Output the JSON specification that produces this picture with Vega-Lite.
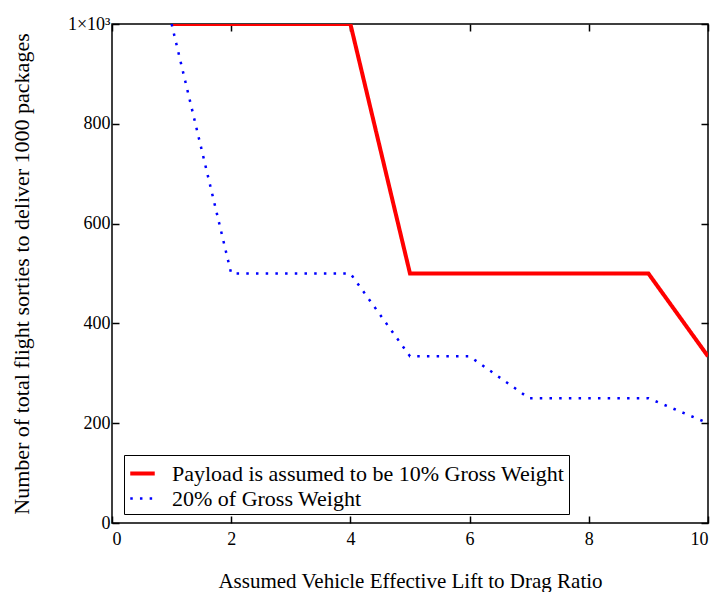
{
  "$schema": "https://vega.github.io/schema/vega-lite/v6.json",
  "autosize": {"type": "none"},
  "padding": {"left": 112, "top": 24, "right": 12, "bottom": 69},
  "width": 596,
  "height": 499,
  "background": "white",
  "config": {
    "font": "Liberation Serif",
    "view": {"stroke": "black", "strokeWidth": 1.5},
    "axis": {
      "domain": false,
      "grid": false,
      "tickColor": "black",
      "tickWidth": 1.5,
      "tickSize": -7,
      "labelColor": "black",
      "labelFont": "Liberation Serif",
      "labelFontSize": 18,
      "titleColor": "black",
      "titleFont": "Liberation Serif",
      "titleFontWeight": "normal"
    }
  },
  "data": {
    "values": [
      {"ld": 1, "sorties": 1000, "series": "Payload is assumed to be 10% Gross Weight"},
      {"ld": 2, "sorties": 1000, "series": "Payload is assumed to be 10% Gross Weight"},
      {"ld": 3, "sorties": 1000, "series": "Payload is assumed to be 10% Gross Weight"},
      {"ld": 4, "sorties": 1000, "series": "Payload is assumed to be 10% Gross Weight"},
      {"ld": 5, "sorties": 500, "series": "Payload is assumed to be 10% Gross Weight"},
      {"ld": 6, "sorties": 500, "series": "Payload is assumed to be 10% Gross Weight"},
      {"ld": 7, "sorties": 500, "series": "Payload is assumed to be 10% Gross Weight"},
      {"ld": 8, "sorties": 500, "series": "Payload is assumed to be 10% Gross Weight"},
      {"ld": 9, "sorties": 500, "series": "Payload is assumed to be 10% Gross Weight"},
      {"ld": 10, "sorties": 334, "series": "Payload is assumed to be 10% Gross Weight"},
      {"ld": 1, "sorties": 1000, "series": "20% of Gross Weight"},
      {"ld": 2, "sorties": 500, "series": "20% of Gross Weight"},
      {"ld": 3, "sorties": 500, "series": "20% of Gross Weight"},
      {"ld": 4, "sorties": 500, "series": "20% of Gross Weight"},
      {"ld": 5, "sorties": 334, "series": "20% of Gross Weight"},
      {"ld": 6, "sorties": 334, "series": "20% of Gross Weight"},
      {"ld": 7, "sorties": 250, "series": "20% of Gross Weight"},
      {"ld": 8, "sorties": 250, "series": "20% of Gross Weight"},
      {"ld": 9, "sorties": 250, "series": "20% of Gross Weight"},
      {"ld": 10, "sorties": 200, "series": "20% of Gross Weight"}
    ]
  },
  "layer": [
    {
      "mark": {"type": "line", "strokeCap": "butt", "clip": true},
      "encoding": {
        "x": {
          "field": "ld", "type": "quantitative",
          "scale": {"domain": [0, 10], "nice": false},
          "axis": {"values": [0, 2, 4, 6, 8, 10], "labelPadding": 14, "title": "Assumed Vehicle Effective Lift to Drag Ratio", "titleFontSize": 21, "titlePadding": 22}
        },
        "y": {
          "field": "sorties", "type": "quantitative",
          "scale": {"domain": [0, 1000], "nice": false},
          "axis": {"values": [0, 200, 400, 600, 800, 1000], "labelPadding": 9, "labelExpr": "datum.value == 1000 ? '1×10³' : datum.label", "labelFlush": false, "title": "Number of total flight sorties to deliver 1000 packages", "titleFontSize": 22, "titlePadding": 34}
        },
        "color": {
          "field": "series", "type": "nominal",
          "scale": {"domain": ["Payload is assumed to be 10% Gross Weight", "20% of Gross Weight"], "range": ["#ff0000", "#0000ff"]},
          "legend": {
            "title": null,
            "orient": "none",
            "legendX": 12,
            "legendY": 431,
            "fillColor": "white",
            "strokeColor": "black",
            "padding": 4,
            "symbolType": "stroke",
            "symbolSize": 600,
            "labelFont": "Liberation Serif",
            "labelFontSize": 22,
            "labelColor": "black",
            "labelLimit": 600,
            "rowPadding": 0,
            "labelOffset": 15
          }
        },
        "strokeDash": {
          "field": "series", "type": "nominal",
          "scale": {"domain": ["Payload is assumed to be 10% Gross Weight", "20% of Gross Weight"], "range": [[1, 0], [2.5, 7.2]]},
          "legend": null
        },
        "strokeWidth": {
          "field": "series", "type": "nominal",
          "scale": {"domain": ["Payload is assumed to be 10% Gross Weight", "20% of Gross Weight"], "range": [4, 2.5]},
          "legend": null
        }
      }
    },
    {
      "mark": {"type": "point", "opacity": 0},
      "encoding": {
        "x": {"field": "ld", "type": "quantitative", "axis": {"orient": "top", "values": [0, 2, 4, 6, 8, 10], "labels": false, "title": null}},
        "y": {"field": "sorties", "type": "quantitative", "axis": {"orient": "right", "values": [0, 200, 400, 600, 800, 1000], "labels": false, "title": null}}
      }
    }
  ],
  "resolve": {"axis": {"x": "independent", "y": "independent"}}
}
